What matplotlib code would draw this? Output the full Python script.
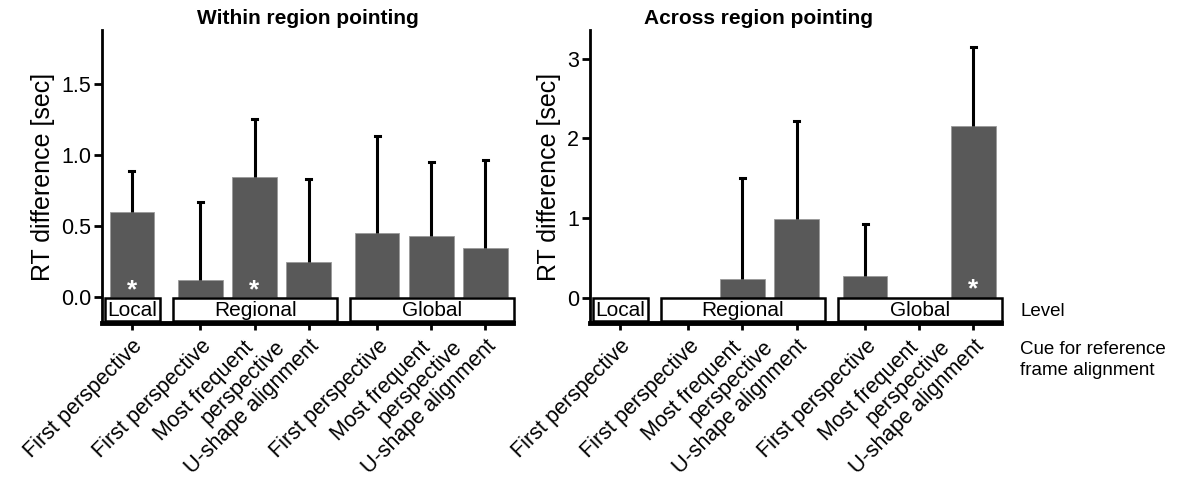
import numpy as np
import matplotlib
matplotlib.use('Agg')
import matplotlib.pyplot as plt
from matplotlib.patches import Rectangle

plt.rcParams['font.family'] = ['Liberation Sans', 'DejaVu Sans']

# data
levels = ['Local', 'Regional', 'Regional', 'Regional', 'Global', 'Global', 'Global']
cues = ['First perspective', 'First perspective', 'Most frequent\nperspective',
        'U-shape alignment', 'First perspective', 'Most frequent\nperspective',
        'U-shape alignment']
within_mean = [0.60, 0.117, 0.844, 0.248, 0.452, 0.427, 0.349]
within_upper = [0.89, 0.666, 1.256, 0.832, 1.137, 0.954, 0.963]
within_sig = [True, False, True, False, False, False, False]
across_mean = [0.0, 0.0, 0.227, 0.99, 0.272, 0.0, 2.158]
across_upper = [np.nan, np.nan, 1.506, 2.216, 0.929, np.nan, 3.149]
across_sig = [False, False, False, False, False, False, True]
level_order = ['Local', 'Regional', 'Global']

# x positions with a gap between level groups
gap = 0.27
pos = []
x = 0.0
for i, lv in enumerate(levels):
    if i > 0:
        x += 1.0 + (gap if lv != levels[i - 1] else 0.0)
    pos.append(x)
pos = np.array(pos)

fig = plt.figure(figsize=(11.89, 4.83), dpi=100)
ax1 = fig.add_axes([0.0858, 0.3313, 0.3457, 0.6066])
ax2 = fig.add_axes([0.4962, 0.3313, 0.3457, 0.6066])

bar_col = '#595959'

# pixel offsets of each label line (top-right corner) from the spine below the tick
one_line = [(0, -13)]
two_lines = [(-11, -14), (20, -13)]


def draw_panel(ax, means, uppers, sig, ylim, yticks, yticklabels, title, title_x, star_y):
    means = np.array(means)
    uppers = np.array(uppers)
    ax.bar(pos, means, width=0.82, color=bar_col, edgecolor='#9a9a9a', linewidth=0.6, zorder=2)
    for p, m, u in zip(pos, means, uppers):
        if np.isnan(u):
            continue
        ax.plot([p, p], [m, u], color='black', lw=2.2, zorder=3, solid_capstyle='butt')
        ax.plot([p - 0.045, p + 0.045], [u, u], color='black', lw=2.2, zorder=3)
    for p, s in zip(pos, sig):
        if s:
            ax.text(p, star_y, '*', color='white', fontsize=19, fontweight='bold',
                    ha='center', va='center', zorder=4)
    ax.set_xlim(-0.55, pos[-1] + 0.51)
    ax.set_ylim(*ylim)
    ax.set_yticks(yticks)
    ax.set_yticklabels(yticklabels, fontsize=15.5)
    ax.set_xticks(pos)
    ax.set_xticklabels([])
    ax.tick_params(axis='y', length=6, width=2, pad=2)
    ax.tick_params(axis='x', length=5, width=2, pad=3)
    ax.spines['top'].set_visible(False)
    ax.spines['right'].set_visible(False)
    ax.spines['left'].set_linewidth(2)
    ax.spines['bottom'].set_linewidth(3.5)
    ax.set_ylabel('RT difference [sec]', fontsize=18, labelpad=4)
    ax.set_title(title, fontsize=15, fontweight='bold', pad=4, x=title_x)
    tr = ax.get_xaxis_transform()
    # cue labels, rotated 45 degrees
    for p, lab in zip(pos, cues):
        lines = lab.split('\n')
        offs = one_line if len(lines) == 1 else two_lines
        for line, (dx, dy) in zip(lines, offs):
            ax.annotate(line, xy=(p, 0), xycoords=tr, xytext=(dx, dy),
                        textcoords='offset pixels', rotation=45, ha='right', va='top',
                        rotation_mode='anchor', fontsize=15.5, annotation_clip=False)
    # level boxes under the bars
    for lv in level_order:
        idx = [i for i, l in enumerate(levels) if l == lv]
        x0 = pos[idx[0]] - 0.5
        x1 = pos[idx[-1]] + 0.52
        ax.add_patch(Rectangle((x0, 0.006), x1 - x0, 0.078, transform=tr,
                               facecolor='white', edgecolor='black', lw=1.8,
                               zorder=5, clip_on=False))
        ax.text((x0 + x1) / 2, 0.044, lv, transform=tr, ha='center', va='center',
                fontsize=15, zorder=6)


draw_panel(ax1, within_mean, within_upper, within_sig, (-0.182, 1.88),
           [0.0, 0.5, 1.0, 1.5], ['0.0', '0.5', '1.0', '1.5'],
           'Within region pointing', 0.5, 0.05)
draw_panel(ax2, across_mean, across_upper, across_sig, (-0.32, 3.36),
           [0, 1, 2, 3], ['0', '1', '2', '3'],
           'Across region pointing', 0.41, 0.1)

fig.text(1020 / 1189, 1 - 312 / 483, 'Level', fontsize=13.5, ha='left', va='center')
fig.text(1020 / 1189, 1 - 360 / 483, 'Cue for reference\nframe alignment', fontsize=13.5,
         ha='left', va='center', linespacing=1.25)

fig.savefig('out.png', dpi=100, facecolor='white')
